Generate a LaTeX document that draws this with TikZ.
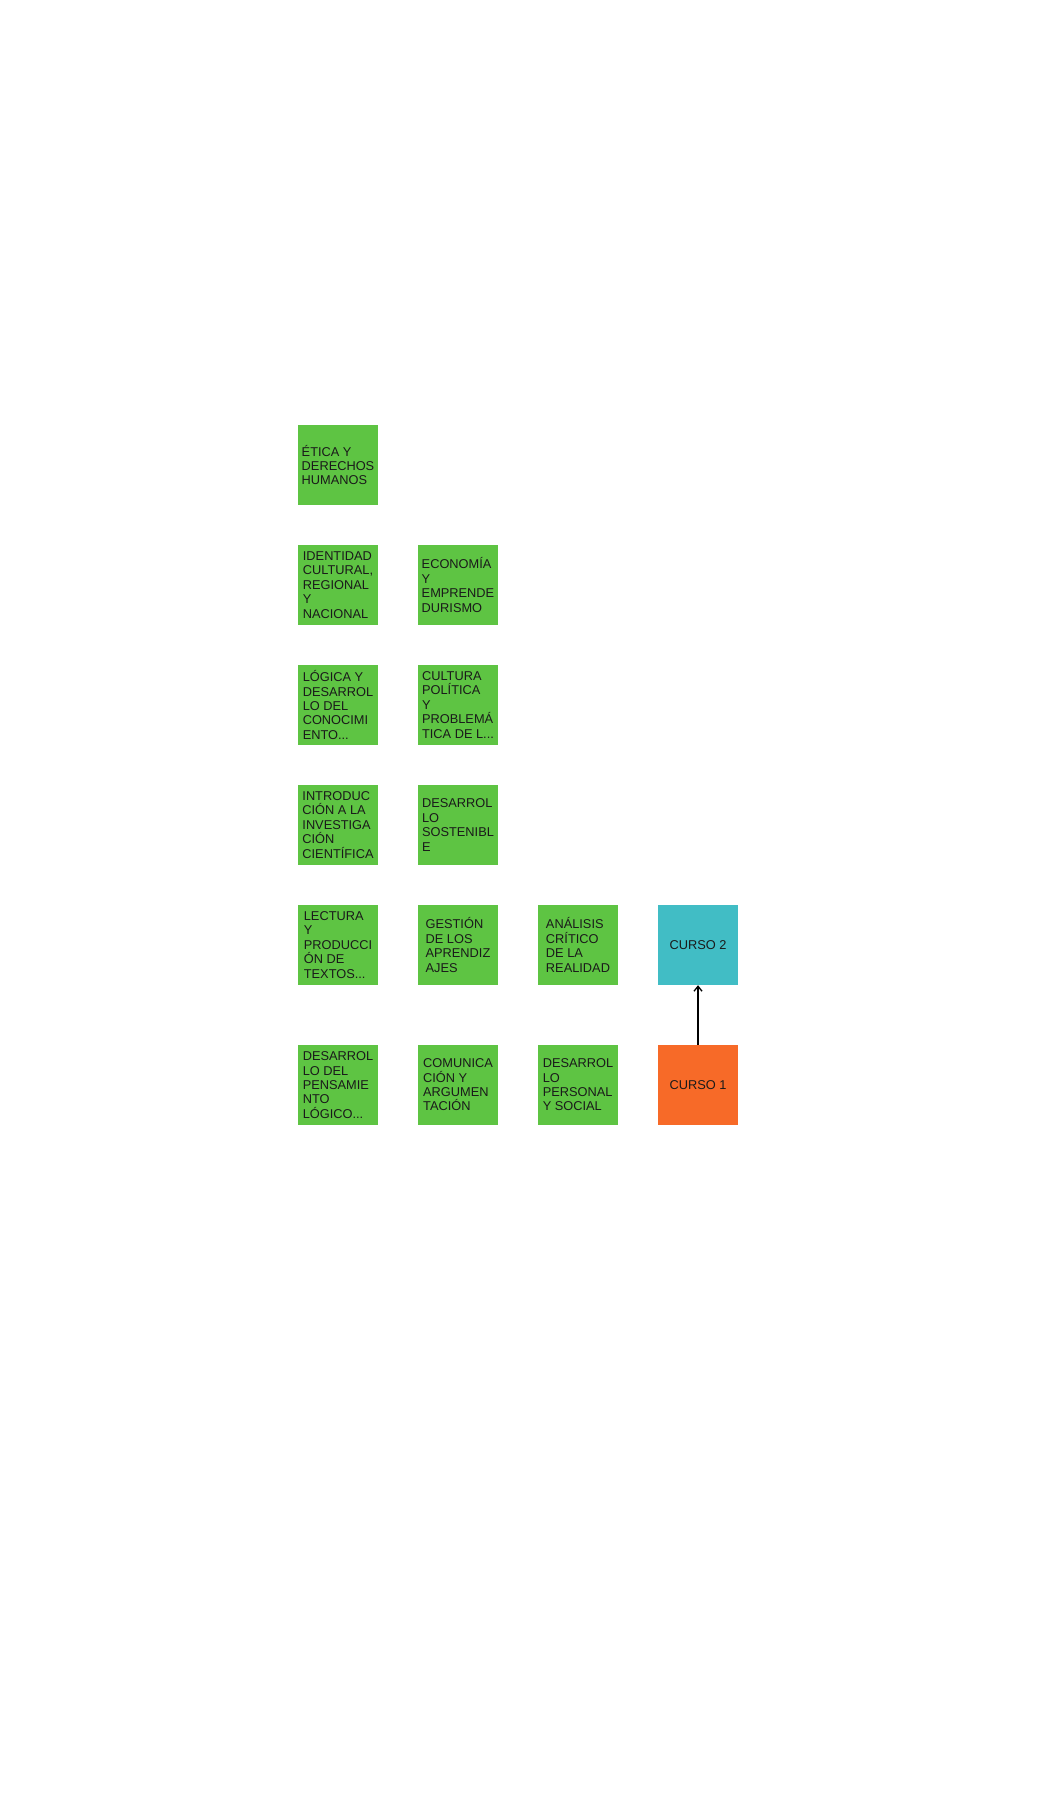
\documentclass[tikz,border=0pt]{standalone}
\usepackage{fontspec}
\setmainfont{Liberation Sans}
\usepackage{xcolor}
\usetikzlibrary{arrows.meta}
\definecolor{boxgreen}{HTML}{5EC443}
\definecolor{boxteal}{HTML}{41BDC5}
\definecolor{boxorange}{HTML}{F76A28}
\definecolor{boxtext}{HTML}{1A1A1A}
\tikzstyle{block} = [rectangle, minimum width=80pt, minimum height=80pt, inner sep=0pt, align=left, text=boxtext, font=\fontsize{12.8pt}{14.4pt}\selectfont, fill=boxgreen]
\tikzstyle{course} = [block, align=center]
\tikzstyle{arrow} = [line width=1.3pt, ->, >={Straight Barb[length=5pt,width=8pt]}]

\begin{document}
\begin{tikzpicture}[node distance=120pt]
\useasboundingbox (0pt,0pt) rectangle (1037pt,1800pt);
\node (etica) [block] at (338pt,1335pt) {ÉTICA Y\\DERECHOS\\HUMANOS};
\node (identidad) [block, below of=etica] {IDENTIDAD\\CULTURAL,\\REGIONAL\\Y\\NACIONAL};
\node (logica) [block, below of=identidad] {LÓGICA Y\\DESARROL\\LO DEL\\CONOCIMI\\ENTO...};
\node (introduccion) [block, below of=logica] {INTRODUC\\CIÓN A LA\\INVESTIGA\\CIÓN\\CIENTÍFICA};
\node (lectura) [block, below of=introduccion] {LECTURA\\Y\\PRODUCCI\\ÓN DE\\TEXTOS...};
\node (pensamiento) [block, below of=lectura, yshift=-20pt] {DESARROL\\LO DEL\\PENSAMIE\\NTO\\LÓGICO...};
\node (economia) [block, right of=identidad] {ECONOMÍA\\Y\\EMPRENDE\\DURISMO};
\node (cultura) [block, right of=logica] {CULTURA\\POLÍTICA\\Y\\PROBLEMÁ\\TICA DE L...};
\node (sostenible) [block, right of=introduccion] {DESARROL\\LO\\SOSTENIBL\\E};
\node (gestion) [block, right of=lectura] {GESTIÓN\\DE LOS\\APRENDIZ\\AJES};
\node (comunicacion) [block, right of=pensamiento] {COMUNICA\\CIÓN Y\\ARGUMEN\\TACIÓN};
\node (analisis) [block, right of=gestion] {ANÁLISIS\\CRÍTICO\\DE LA\\REALIDAD};
\node (personal) [block, right of=comunicacion] {DESARROL\\LO\\PERSONAL\\Y SOCIAL};
\node (curso2) [course, right of=analisis, fill=boxteal] {CURSO 2};
\node (curso1) [course, right of=personal, fill=boxorange] {CURSO 1};
\draw [arrow] (curso1) -- (curso2);
\end{tikzpicture}
\end{document}
